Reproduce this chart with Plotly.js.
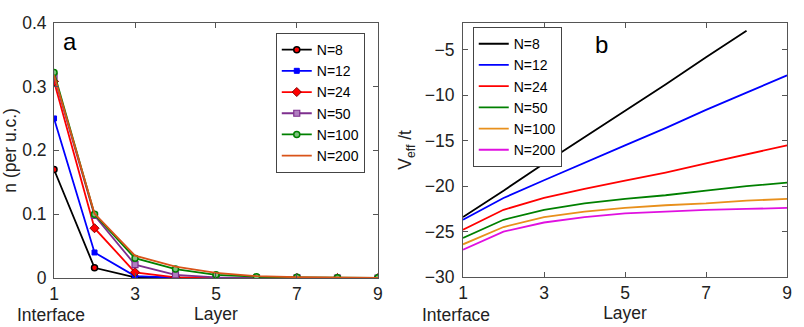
<!DOCTYPE html>
<html>
<head>
<meta charset="utf-8">
<script src="https://cdn.plot.ly/plotly-3.0.1.min.js"></script>
<style>body{margin:0;background:#fff}#chart{width:804px;height:327px}</style>
</head>
<body>
<div id="chart"></div>
<script>
var layers = [1, 2, 3, 4, 5, 6, 7, 8, 9];
var names = ['N=8', 'N=12', 'N=24', 'N=50', 'N=100', 'N=200'];

// panel a: charge per unit cell
var nN8   = [0.170, 0.016, 0.001, 0.0002, 0, 0, 0, 0, 0];
var nN12  = [0.250, 0.040, 0.003, 0.0005, 0.0001, 0, 0, 0, 0];
var nN24  = [0.308, 0.078, 0.009, 0.001, 0.0003, 0.0001, 0, 0, 0];
var nN50  = [0.316, 0.098, 0.021, 0.005, 0.001, 0.0003, 0.0001, 0, 0];
var nN100 = [0.322, 0.100, 0.031, 0.014, 0.005, 0.002, 0.001, 0.0005, 0.0003];
var nN200 = [0.318, 0.101, 0.035, 0.018, 0.008, 0.003, 0.0012, 0.0006, 0.0003];

// panel b: effective potential
var vN8   = [-23.4, -20.5, -17.5, -14.6, -11.7, -8.8, -5.8, -2.9];
var vN12  = [-23.7, -21.3, -19.35, -17.4, -15.5, -13.6, -11.6, -9.7, -7.8];
var vN24  = [-24.8, -22.6, -21.3, -20.3, -19.4, -18.5, -17.5, -16.5, -15.5];
var vN50  = [-25.7, -23.7, -22.6, -21.9, -21.4, -21.0, -20.5, -20.0, -19.6];
var vN100 = [-26.4, -24.5, -23.4, -22.8, -22.4, -22.1, -21.9, -21.6, -21.4];
var vN200 = [-27.0, -25.0, -24.0, -23.4, -23.0, -22.8, -22.6, -22.5, -22.4];

var colA = ['#000000', '#0000ff', '#ff0000', '#7e2f8e', '#008000', '#d95319'];
var colB = ['#000000', '#0000ff', '#ff0000', '#008000', '#e8901c', '#e010e0'];

var font = 'Liberation Sans, Arial, sans-serif';

var markers = [
  {symbol: 'circle', size: 6, color: '#ff0000', line: {color: '#000', width: 1.5}},
  {symbol: 'square', size: 5, color: '#0000ff', line: {color: '#0000ff', width: 1}},
  {symbol: 'diamond', size: 7, color: '#ff0000', line: {color: '#8b0000', width: 1}},
  {symbol: 'square', size: 6, color: '#b07fc0', line: {color: '#7e2f8e', width: 1.2}},
  {symbol: 'circle', size: 6, color: '#80c080', line: {color: '#008000', width: 1.5}},
  null
];

var nSeries = [nN8, nN12, nN24, nN50, nN100, nN200];
var vSeries = [vN8, vN12, vN24, vN50, vN100, vN200];

var data = [];
nSeries.forEach(function (s, i) {
  var t = {
    x: layers, y: s, type: 'scatter', name: names[i],
    mode: markers[i] ? 'lines+markers' : 'lines',
    line: {color: colA[i], width: 1.8},
    xaxis: 'x', yaxis: 'y', legend: 'legend'
  };
  if (markers[i]) t.marker = markers[i];
  data.push(t);
});
vSeries.forEach(function (s, i) {
  data.push({
    x: layers.slice(0, s.length), y: s, type: 'scatter', name: names[i],
    mode: 'lines', line: {color: colB[i], width: 1.8},
    xaxis: 'x2', yaxis: 'y2', legend: 'legend2'
  });
});

var axBase = {
  showline: true, linecolor: '#555', linewidth: 1, mirror: 'ticks',
  ticks: 'inside', ticklen: 5, tickcolor: '#555', showgrid: false, zeroline: false,
  tickfont: {family: font, size: 17.5, color: '#222'}
};
function ax(extra) { return Object.assign({}, axBase, extra); }
var titleFont = {family: font, size: 17.5, color: '#222'};

var legBase = {
  font: {family: font, size: 14, color: '#000'},
  bgcolor: '#fff', bordercolor: '#444', borderwidth: 1,
  xanchor: 'left', yanchor: 'top', tracegroupgap: 0, itemwidth: 30
};

var layout = {
  width: 804, height: 327,
  margin: {l: 0, r: 0, t: 0, b: 0},
  paper_bgcolor: '#fff', plot_bgcolor: '#fff',
  showlegend: true,
  xaxis: ax({domain: [0.0672, 0.4701], range: [1, 9], tickvals: [1, 3, 5, 7, 9],
    title: {text: 'Layer', font: titleFont, standoff: 2}}),
  yaxis: ax({domain: [0.1498, 0.9306], range: [0, 0.4], tickvals: [0, 0.1, 0.2, 0.3, 0.4],
    ticklabelstandoff: 3, title: {text: 'n (per u.c.)', font: titleFont, standoff: 10}}),
  xaxis2: ax({anchor: 'y2', domain: [0.5759, 0.9789], range: [1, 9], tickvals: [1, 3, 5, 7, 9],
    title: {text: 'Layer', font: titleFont, standoff: 2}}),
  yaxis2: ax({anchor: 'x2', domain: [0.1529, 0.9306], range: [-30, -2], tickvals: [-30, -25, -20, -15, -10, -5],
    ticklabelstandoff: 4, title: {text: 'V<sub>eff</sub> /t', font: titleFont, standoff: 8}}),
  legend: Object.assign({}, legBase, {x: 0.343, y: 0.899}),
  legend2: Object.assign({}, legBase, {x: 0.588, y: 0.917}),
  annotations: [
    {text: 'a', xref: 'paper', yref: 'paper', x: 0.076, y: 0.92, xanchor: 'left', yanchor: 'top',
     showarrow: false, font: {family: font, size: 24, color: '#000'}},
    {text: 'b', xref: 'paper', yref: 'paper', x: 0.738, y: 0.91, xanchor: 'left', yanchor: 'top',
     showarrow: false, font: {family: font, size: 24, color: '#000'}},
    {text: 'Interface', xref: 'paper', yref: 'paper', x: 0.064, y: 0.038, xanchor: 'center', yanchor: 'middle',
     showarrow: false, font: titleFont},
    {text: 'Interface', xref: 'paper', yref: 'paper', x: 0.567, y: 0.038, xanchor: 'center', yanchor: 'middle',
     showarrow: false, font: titleFont}
  ]
};

Plotly.newPlot('chart', data, layout, {displayModeBar: false, staticPlot: true});
</script>
</body>
</html>
